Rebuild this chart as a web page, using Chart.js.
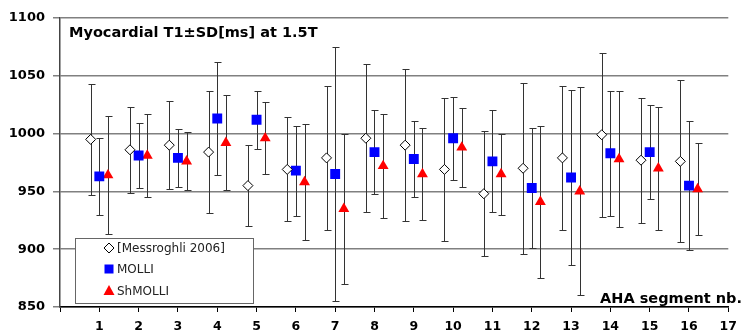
<!DOCTYPE html>
<html>
<head>
<meta charset="utf-8">
<script src="https://cdn.jsdelivr.net/npm/chart.js@4/dist/chart.umd.min.js"></script>
<style>
  html, body { margin: 0; padding: 0; background: #fff; }
  #wrap { width: 744px; height: 335px; }
</style>
</head>
<body>
<div id="wrap"><canvas id="t1" width="744" height="335"></canvas></div>
<script>
// AHA segments 1..16
const segments = [1, 2, 3, 4, 5, 6, 7, 8, 9, 10, 11, 12, 13, 14, 15, 16];

// Messroghli 2006 reference values (mean, SD) in ms
const messroghli   = [995, 986, 990, 984, 955, 969, 979, 996, 990, 969, 948, 970, 979, 999, 977, 976];
const messroghliSD = [48, 37, 38, 53, 35, 45, 62, 64, 66, 62, 54, 74, 62, 71, 54, 70];

// MOLLI
const molli   = [963, 981, 979, 1013, 1012, 968, 965, 984, 978, 996, 976, 953, 962, 983, 984, 955];
const molliSD = [33, 28, 25, 49, 25, 39, 110, 36, 33, 36, 44, 52, 76, 54, 41, 56];

// ShMOLLI
const shmolli   = [964, 981, 976, 992, 996, 958, 935, 972, 965, 988, 965, 941, 950, 978, 970, 952];
const shmolliSD = [51, 36, 25, 41, 31, 50, 65, 45, 40, 34, 35, 66, 90, 59, 53, 40];

const yTicks = [850, 900, 950, 1000, 1050, 1100];

const BOLD = '"DejaVu Sans", sans-serif';

function pts(vals, shift) {
  return segments.map((s, i) => ({ x: s + shift, y: vals[i] }));
}

// error bars (±SD) drawn under the markers
const errorBars = {
  id: 'errorBars',
  beforeDatasetsDraw(chart) {
    const { ctx, scales: { y } } = chart;
    ctx.save();
    ctx.strokeStyle = '#333';
    ctx.lineWidth = 1;
    chart.data.datasets.forEach((ds, di) => {
      const meta = chart.getDatasetMeta(di);
      meta.data.forEach((el, i) => {
        const v = ds.data[i].y, sd = ds.sd[i];
        const x = Math.round(el.x) + 0.5;
        const top = Math.round(y.getPixelForValue(v + sd)) + 0.5;
        const bot = Math.round(y.getPixelForValue(v - sd)) + 0.5;
        ctx.beginPath();
        ctx.moveTo(x, top); ctx.lineTo(x, bot);
        ctx.moveTo(x - 3, top); ctx.lineTo(x + 4, top);
        ctx.moveTo(x - 3, bot); ctx.lineTo(x + 4, bot);
        ctx.stroke();
      });
    });
    ctx.restore();
  }
};

function marker(ctx, style, x, y, fill) {
  ctx.beginPath();
  if (style === 'rectRot') {
    ctx.moveTo(x - 5, y); ctx.lineTo(x, y - 5); ctx.lineTo(x + 5, y); ctx.lineTo(x, y + 5);
    ctx.closePath();
    ctx.fillStyle = '#fff'; ctx.fill();
    ctx.strokeStyle = '#000'; ctx.lineWidth = 1; ctx.stroke();
  } else if (style === 'rect') {
    ctx.fillStyle = fill; ctx.fillRect(x - 4.5, y - 4.5, 9, 9);
  } else {
    ctx.moveTo(x, y - 6); ctx.lineTo(x + 5.5, y + 4); ctx.lineTo(x - 5.5, y + 4);
    ctx.closePath();
    ctx.fillStyle = fill; ctx.fill();
  }
}

// title, axis caption and the boxed legend inside the plot
const overlay = {
  id: 'overlay',
  afterDraw(chart) {
    const { ctx, chartArea: a } = chart;
    ctx.save();
    ctx.fillStyle = '#000';
    ctx.textBaseline = 'alphabetic';
    ctx.font = 'bold 14.5px ' + BOLD;
    ctx.textAlign = 'left';
    ctx.fillText('Myocardial T1\u00b1SD[ms] at 1.5T', a.left + 9, 37);

    ctx.font = 'bold 14.5px ' + BOLD;
    ctx.textAlign = 'right';
    ctx.fillText('AHA segment nb.', 742, 303);

    // legend box
    const bx = a.left + 15, by = 238, bw = 178, bh = 65;
    ctx.fillStyle = '#fff';
    ctx.fillRect(bx, by, bw, bh);
    ctx.strokeStyle = '#666';
    ctx.lineWidth = 1;
    ctx.strokeRect(bx + 0.5, by + 0.5, bw, bh);

    ctx.font = '12px "DejaVu Sans", sans-serif';
    ctx.textAlign = 'left';
    ctx.textBaseline = 'middle';
    const rows = [248, 269, 291];
    chart.data.datasets.forEach((ds, i) => {
      marker(ctx, ds.pointStyle, bx + 34, rows[i], ds.backgroundColor);
      ctx.fillStyle = '#222';
      ctx.fillText(ds.label, bx + 42, rows[i] + 1);
    });
    ctx.restore();
  }
};

new Chart(document.getElementById('t1'), {
  type: 'scatter',
  data: {
    datasets: [
      {
        label: '[Messroghli 2006]',
        data: pts(messroghli, -0.22),
        sd: messroghliSD,
        pointStyle: 'rectRot',
        pointRadius: 5,
        pointHoverRadius: 5,
        backgroundColor: '#ffffff',
        borderColor: '#000000',
        borderWidth: 1,
      },
      {
        label: 'MOLLI',
        data: pts(molli, 0),
        sd: molliSD,
        pointStyle: 'rect',
        pointRadius: 7,
        pointHoverRadius: 7,
        backgroundColor: '#0000ff',
        borderColor: '#0000ff',
        borderWidth: 0,
      },
      {
        label: 'ShMOLLI',
        data: pts(shmolli, 0.22),
        sd: shmolliSD,
        pointStyle: 'triangle',
        pointRadius: 6.3,
        pointHoverRadius: 6.3,
        backgroundColor: '#ff0000',
        borderColor: '#ff0000',
        borderWidth: 0,
      },
    ],
  },
  options: {
    responsive: false,
    animation: false,
    devicePixelRatio: 1,
    layout: { padding: { top: 18, right: 8, left: 0, bottom: 0 } },
    plugins: {
      legend: { display: false },
      tooltip: { enabled: false },
    },
    scales: {
      x: {
        type: 'linear',
        min: 0,
        max: 17,
        afterFit(s) { s.height = 28; },
        afterBuildTicks(s) { s.ticks = Array.from({ length: 18 }, (_, i) => ({ value: i })); },
        ticks: {
          stepSize: 1,
          autoSkip: false,
          maxRotation: 0,
          padding: 7,
          color: '#000',
          font: { family: BOLD, weight: 'bold', size: 12.5 },
          callback: (v) => (v === 0 ? '' : String(v)),
        },
        grid: { drawOnChartArea: false, drawTicks: true, tickLength: 5, color: '#000', lineWidth: 1 },
        border: { color: '#000', width: 1.5 },
      },
      y: {
        min: 850,
        max: 1100,
        afterFit(s) { s.width = 60; },
        afterBuildTicks(s) { s.ticks = yTicks.map((v) => ({ value: v })); },
        ticks: {
          padding: 8,
          color: '#000',
          font: { family: BOLD, weight: 'bold', size: 13 },
          callback: (v) => String(v),
        },
        grid: { color: '#808080', lineWidth: 1.5, tickLength: 7 },
        border: { color: '#444', width: 1.5 },
      },
    },
  },
  plugins: [errorBars, overlay],
});
</script>
</body>
</html>
